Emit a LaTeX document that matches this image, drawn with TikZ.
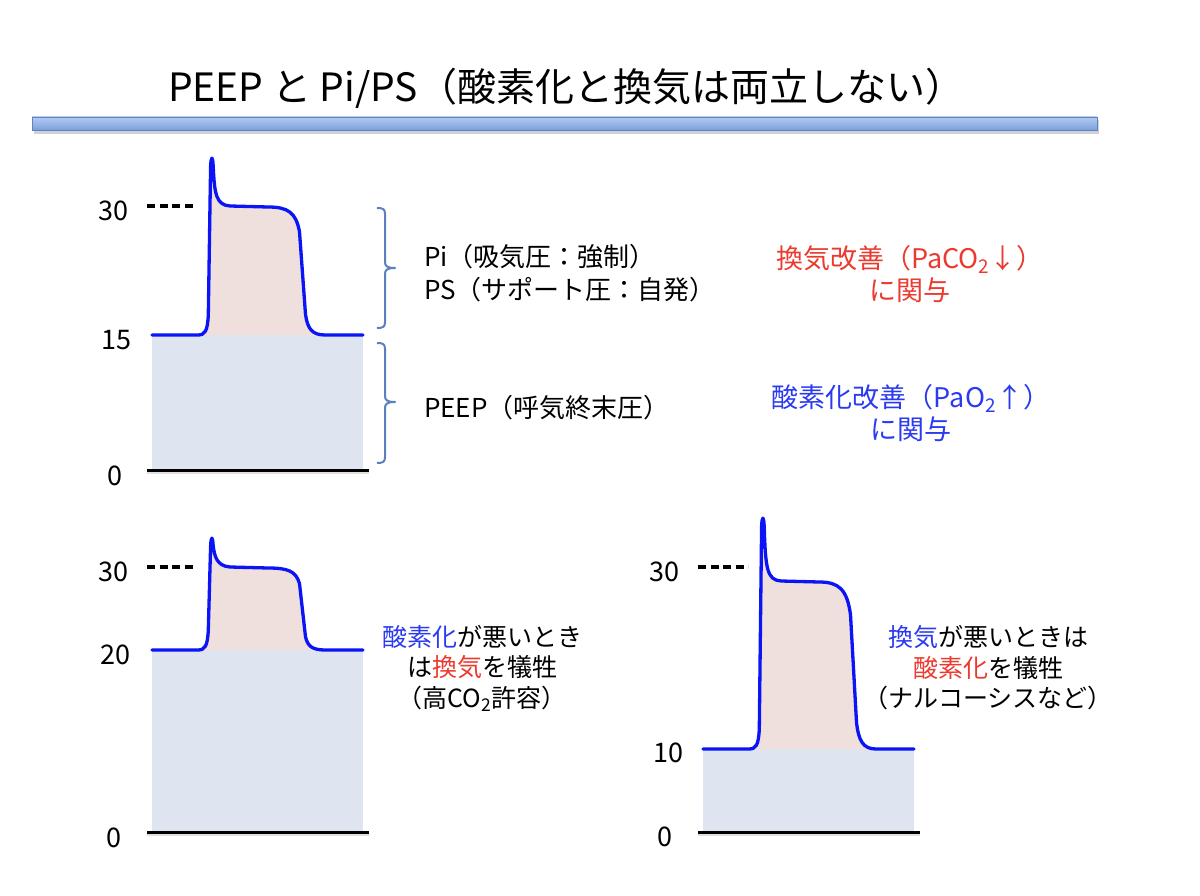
\documentclass[tikz,border=0pt]{standalone}
\usepackage{fontspec}
\setmainfont{Noto Sans CJK JP}
\definecolor{curveblue}{HTML}{0A14F5}
\definecolor{pinkfill}{HTML}{EFDFDD}
\definecolor{bluefill}{HTML}{DFE5F0}
\definecolor{bracecol}{HTML}{5B80BE}
\definecolor{redtxt}{HTML}{EB3A2E}
\definecolor{bluetxt}{HTML}{2A3AF0}
\definecolor{barlight}{HTML}{B3CBF3}
\definecolor{bardark}{HTML}{7C9FDA}
\definecolor{baredge}{HTML}{5F83BF}
\newcommand{\myfs}[2]{\fontsize{#1}{#2}\selectfont}
% #1 xshift, #2 baseline y, #3 peak y, #4 plateau y, #5 bottom y, #6 dash y
\newcommand{\pulsechart}[6]{%
\begin{scope}[xshift=#1pt]
\pgfmathsetmacro{\ha}{#4+0.05*(#2-#4)}%
\pgfmathsetmacro{\hb}{#4+0.2*(#2-#4)}%
\pgfmathsetmacro{\hc}{#2-0.16*(#2-#4)}%
\pgfmathsetmacro{\hd}{#2-0.05*(#2-#4)}%
\fill[bluefill] (152,#2) rectangle (363,#5);
\fill[pinkfill] (198,#2)
 .. controls (205,#2) and (207.5,#2-4) .. (208.3,#2-20)
 -- (210.6,#3+9)
 .. controls (211.2,#3-1.5) and (212.6,#3-1.5) .. (213.2,#3+9)
 .. controls (214.5,#4-12) and (216,#4-1) .. (230,#4)
 -- (268,#4+1)
 .. controls (288,#4+1) and (296,\ha) .. (299.5,\hb)
 -- (305.5,\hc)
 .. controls (307.5,\hd) and (312,#2) .. (325,#2) -- cycle;
\draw[pulseline] (152,#2) -- (198,#2)
 .. controls (205,#2) and (207.5,#2-4) .. (208.3,#2-20)
 -- (210.6,#3+9)
 .. controls (211.2,#3-1.5) and (212.6,#3-1.5) .. (213.2,#3+9)
 .. controls (214.5,#4-12) and (216,#4-1) .. (230,#4)
 -- (268,#4+1)
 .. controls (288,#4+1) and (296,\ha) .. (299.5,\hb)
 -- (305.5,\hc)
 .. controls (307.5,\hd) and (312,#2) .. (325,#2) -- (363,#2);
\draw[shadowline] (147,#5+2.5) -- (369,#5+2.5);
\draw[axisline] (147,#5) -- (369,#5);
\draw[dashline] (147,#6) -- (197,#6);
\end{scope}}
\begin{document}
\begin{tikzpicture}[x=1pt,y=-1pt,
  pulseline/.style={draw=curveblue,line width=3.3pt,line join=round,line cap=round},
  axisline/.style={draw=black,line width=3pt},
  shadowline/.style={draw=black,opacity=0.12,line width=3pt},
  dashline/.style={draw=black,line width=3.3pt,dash pattern=on 8pt off 4.5pt},
  bracestyle/.style={draw=bracecol,line width=2pt,line join=round},
  titletext/.style={inner sep=0pt,font=\myfs{39}{44}},
  txt/.style={inner sep=0pt,font=\myfs{26}{32}},
  rtxt/.style={inner sep=0pt,font=\myfs{27}{32.5},align=center},
  btxt/.style={inner sep=0pt,font=\myfs{25}{30.5},align=center},
  lbl/.style={inner sep=0pt,font=\myfs{27}{30}}]
\useasboundingbox (0,0) rectangle (1200,896);
% title bar
\fill[black,opacity=0.18] (34,120) rectangle (1099,134);
\shade[top color=barlight,bottom color=bardark,draw=baredge,line width=0.8pt] (32,117) rectangle (1097,130);
\node[titletext] (title) at (566,88) {PEEP と Pi/PS（酸素化と換気は両立しない）};
% charts
\pulsechart{0}{335}{157}{206}{470}{206}
\pulsechart{0}{650}{537}{567}{832}{567}
\pulsechart{551}{749}{517}{581}{832}{567}
% axis labels
\node[lbl] (a30) at (113,211) {30};
\node[lbl] (a15) at (116,340) {15};
\node[lbl] (a0) at (115,476) {0};
\node[lbl] (b30) at (113,572) {30};
\node[lbl] (b20) at (115,655) {20};
\node[lbl] (b0) at (114,838) {0};
\node[lbl] (c30) at (664,572) {30};
\node[lbl] (c10) at (668,753) {10};
\node[lbl] (c0) at (665,837) {0};
% braces
\draw[bracestyle] (377,208) .. controls (383,208) and (385,209) .. (385,214) -- (385,262)
  .. controls (385,266) and (387,268) .. (395,268)
  .. controls (387,268) and (385,270) .. (385,274) -- (385,322)
  .. controls (385,327) and (383,328) .. (377,328);
\draw[bracestyle] (377,343) .. controls (383,343) and (385,344) .. (385,349) -- (385,396)
  .. controls (385,400) and (387,402) .. (395,402)
  .. controls (387,402) and (385,404) .. (385,408) -- (385,457)
  .. controls (385,462) and (383,463) .. (377,463);
% top texts
\node[txt,anchor=west] (pi) at (424,257) {Pi（吸気圧：強制）};
\node[txt,anchor=west] (ps) at (424,290) {PS（サポート圧：自発）};
\node[txt,anchor=west] (peep) at (424,408) {PEEP（呼気終末圧）};
\node[rtxt,text=redtxt] (vent) at (910,274) {換気改善（PaCO\textsubscript{2}↓）\\に関与};
\node[rtxt,text=bluetxt] (oxy) at (911,413) {酸素化改善（PaO\textsubscript{2}↑）\\に関与};
% bottom texts
\node[btxt] (bl) at (482,668) {\textcolor{bluetxt}{酸素化}が悪いとき\\は\textcolor{redtxt}{換気}を犠牲\\（高CO\textsubscript{2}許容）};
\node[btxt] (br) at (988,668) {\textcolor{bluetxt}{換気}が悪いときは\\\textcolor{redtxt}{酸素化}を犠牲\\（ナルコーシスなど）};
\end{tikzpicture}
\end{document}
